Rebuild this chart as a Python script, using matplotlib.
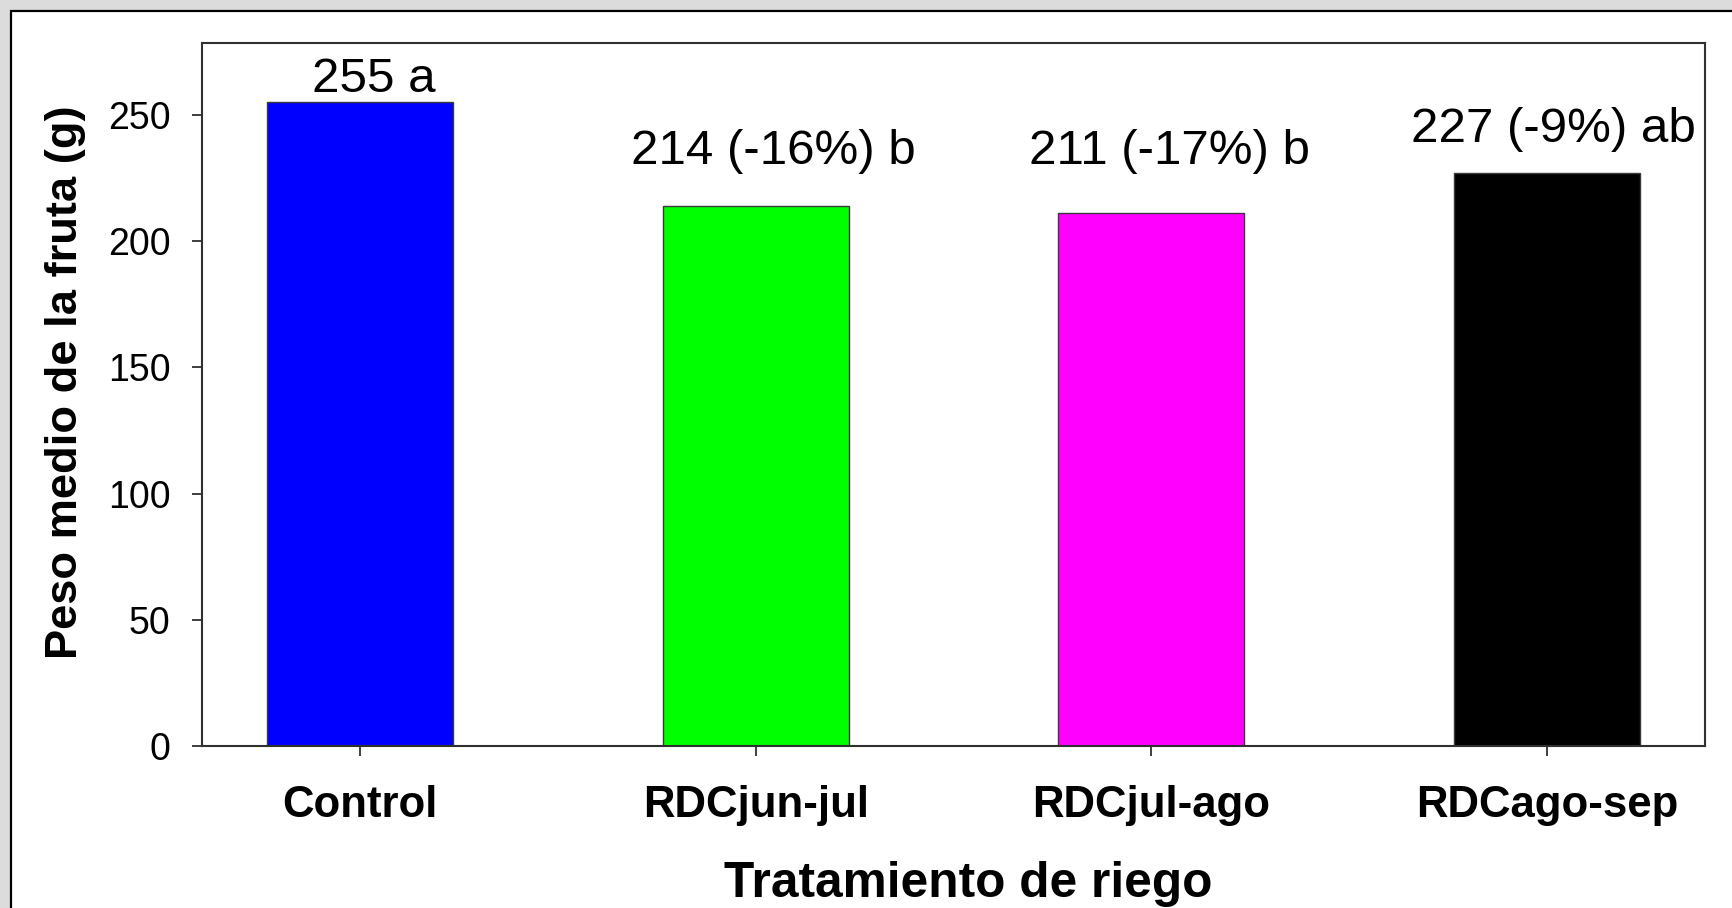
import matplotlib
matplotlib.use("Agg")
import matplotlib.pyplot as plt
from matplotlib.patches import Rectangle

plt.rcParams['font.family'] = ['Liberation Sans', 'DejaVu Sans']

# Data
treatments = ["Control", "RDCjun-jul", "RDCjul-ago", "RDCago-sep"]
fruit_weight = [255, 214, 211, 227]
change_pct = [None, -16, -17, -9]
letters = ["a", "b", "b", "ab"]
bar_colors = ["#0000ff", "#00ff00", "#ff00ff", "#000000"]
y_ticks = [0, 50, 100, 150, 200, 250]

# Label placement (data units)
label_y = [259.2, 230.5, 230.5, 239.2]
label_dx = [0.035, 0.044, 0.047, 0.016]

W, H = 1733, 908
fig = plt.figure(figsize=(W / 100, H / 100), dpi=100)
fig.patch.set_facecolor("#dcdcdc")

# White panel with black frame, behind the axes
panel = Rectangle((11 / W, -0.05), 1.2, 1 - 11 / H + 0.05, transform=fig.transFigure,
                  facecolor="white", edgecolor="black", linewidth=1.6, zorder=-10)
fig.add_artist(panel)

ax = fig.add_axes([202 / W, (H - 746) / H, (1705 - 202) / W, (746 - 43) / H])
ax.set_facecolor("white")
ax.set_zorder(1)

x = list(range(len(treatments)))
ax.bar(x, fruit_weight, width=0.47, color=bar_colors, edgecolor="#3a3a3a",
       linewidth=1.0, zorder=2)

for i, v in enumerate(fruit_weight):
    if change_pct[i] is None:
        txt = f"{v} {letters[i]}"
    else:
        txt = f"{v} ({change_pct[i]}%) {letters[i]}"
    ax.text(i + label_dx[i], label_y[i], txt, ha="center", va="baseline",
            fontsize=35.5, color="black")

ax.set_xlim(-0.4, 3.4)
ax.set_ylim(0, 278.5)
ax.set_yticks(y_ticks)
ax.set_xticks(x)
ax.set_xticklabels(treatments, fontsize=31.5, fontweight="bold")
ax.tick_params(axis="y", labelsize=27, length=7, width=1.3, pad=15.5, color="#303030")
ax.tick_params(axis="x", length=7, width=1.3, pad=21, color="#303030")

for sp in ax.spines.values():
    sp.set_linewidth(1.5)
    sp.set_color("#303030")

ax.set_ylabel("Peso medio de la fruta (g)", fontsize=32.6, fontweight="bold", labelpad=16)
ax.yaxis.label.set_y(0.517)
ax.set_xlabel("Tratamiento de riego", fontsize=35.7, fontweight="bold", labelpad=25)
ax.xaxis.label.set_x(0.51)

fig.savefig("out.png", dpi=100, facecolor=fig.get_facecolor())
